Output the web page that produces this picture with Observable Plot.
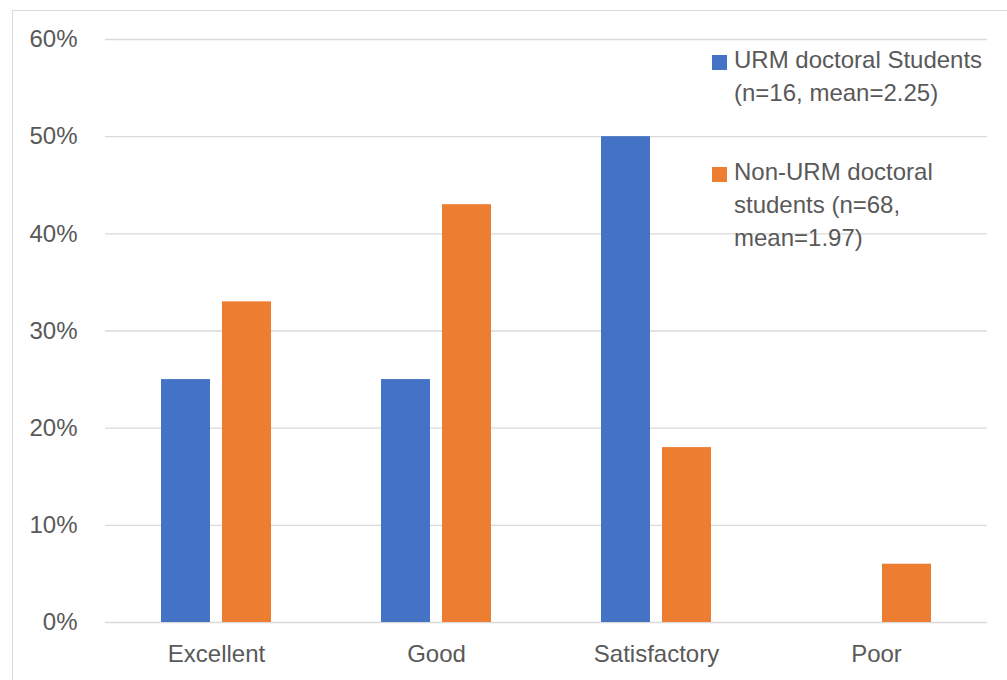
<!DOCTYPE html>
<html>
<head>
<meta charset="utf-8">
<script src="https://cdn.jsdelivr.net/npm/d3@7"></script>
<script src="https://cdn.jsdelivr.net/npm/@observablehq/plot@0.6"></script>
<style>
  html, body { margin: 0; padding: 0; background: #fff; overflow: hidden; }
  #wrap { position: relative; width: 1007px; height: 680px; overflow: hidden; font-family: "Liberation Sans", Arial, sans-serif; }
  #frame { position: absolute; left: 12px; top: 10px; width: 1100px; height: 800px; border: 1.4px solid #d9d9d9; box-sizing: border-box; pointer-events: none; }
  #legend { position: absolute; left: 712px; top: 0; color: #595959; font-size: 24px; line-height: 33px; }
  .entry { position: absolute; left: 0; white-space: nowrap; }
  .sw { position: absolute; left: 0; top: 12px; width: 15px; height: 15px; }
  .txt { position: absolute; left: 22px; top: 0; }
</style>
</head>
<body>
<div id="wrap"><div id="frame"></div><div id="chart"></div><div id="legend"></div></div>
<script>
const categories = ["Excellent", "Good", "Satisfactory", "Poor"];
const seriesNames = ["URM doctoral Students (n=16, mean=2.25)", "Non-URM doctoral students (n=68, mean=1.97)"];
const legendLines = [["URM doctoral Students", "(n=16, mean=2.25)"], ["Non-URM doctoral", "students (n=68,", "mean=1.97)"]];
const urmValues = [25, 25, 50, 0];
const nonUrmValues = [33, 43, 18, 6];
const yTicks = [0, 10, 20, 30, 40, 50, 60];
const colors = ["#4472C4", "#ED7D31"];

const urm = categories.map((c, i) => ({category: c, value: urmValues[i]}));
const nonUrm = categories.map((c, i) => ({category: c, value: nonUrmValues[i]}));

const chart = Plot.plot({
  width: 1007,
  height: 680,
  marginTop: 39,
  marginBottom: 58,
  marginLeft: 105,
  marginRight: 20,
  style: {fontFamily: "Liberation Sans, Arial, sans-serif", fontSize: "24px", color: "#595959", background: "transparent"},
  x: {domain: categories, padding: 0},
  y: {domain: [0, 60]},
  marks: [
    Plot.ruleY(yTicks, {stroke: "#d9d9d9", strokeWidth: 1.4}),
    Plot.barY(urm.filter(d => d.value > 0), {x: "category", y: "value", fill: colors[0], insetLeft: 85.5, insetRight: 85.5, dx: -30.5}),
    Plot.barY(nonUrm, {x: "category", y: "value", fill: colors[1], insetLeft: 85.5, insetRight: 85.5, dx: 30.5}),
    Plot.axisY({ticks: yTicks, tickSize: 0, tickPadding: 28, tickFormat: d => d + "%", label: null, fill: "#595959"}),
    Plot.axisX({tickSize: 0, tickPadding: 22, label: null, fill: "#595959"})
  ]
});
document.getElementById("chart").appendChild(chart);

const legend = document.getElementById("legend");
const entryTops = [43, 155];
legendLines.forEach((lines, i) => {
  const e = document.createElement("div");
  e.className = "entry";
  e.style.top = entryTops[i] + "px";
  e.title = seriesNames[i];
  const sw = document.createElement("div");
  sw.className = "sw";
  sw.style.background = colors[i];
  const t = document.createElement("div");
  t.className = "txt";
  t.innerHTML = lines.join("<br>");
  e.appendChild(sw);
  e.appendChild(t);
  legend.appendChild(e);
});
</script>
</body>
</html>
